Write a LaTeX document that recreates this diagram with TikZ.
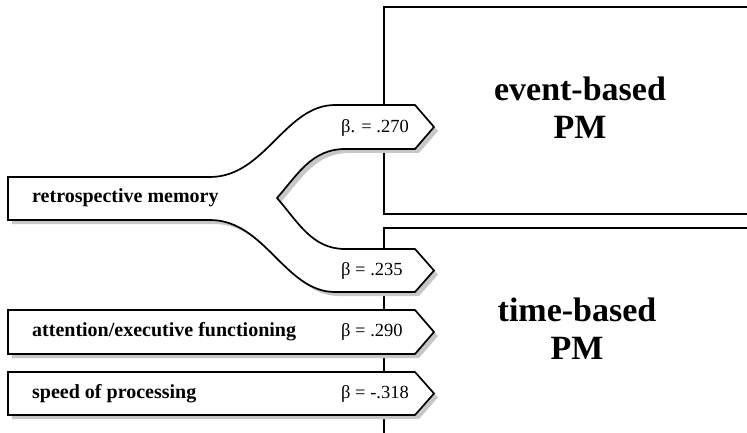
\documentclass[tikz,border=0pt]{standalone}
\usepackage{fontspec}
\setmainfont{Liberation Serif}
\usetikzlibrary{shadows}

\begin{document}
\begin{tikzpicture}[x=1pt, y=-1pt,
  pmbox/.style={line width=1.7pt},
  arrowbox/.style={draw, fill=white, line width=1.7pt, line join=miter,
                   drop shadow={shadow xshift=4pt, shadow yshift=-4pt, fill=black!22, opacity=1}},
  factor/.style={anchor=west, inner sep=0pt, font=\fontsize{20}{24}\selectfont\bfseries},
  beta/.style={anchor=west, inner sep=0pt, font=\fontsize{18.5}{22}\selectfont},
  outcome/.style={align=center, inner sep=0pt, font=\fontsize{34}{40}\selectfont\bfseries}]

  \useasboundingbox (0,0) rectangle (747,433);
  \clip (0,0) rectangle (747,433);
  \fill[white] (0,0) rectangle (747,433);

  % ----- PM boxes (run off the page) -----
  \draw[pmbox] (760,7) -- (384,7) -- (384,214) -- (760,214);
  \draw[pmbox] (760,228) -- (384,228) -- (384,440);
  \node[outcome] (event) at (580,108) {event-based\\[-2pt]PM};
  \node[outcome] (time) at (577,329) {time-based\\[-2pt]PM};

  % ----- forked arrow: retrospective memory -----
  \draw[arrowbox] (8,177) -- (210,177)
    .. controls (265,177) and (285,105) .. (335,105) -- (415,105) -- (434,127)
    -- (415,149) -- (345,149)
    .. controls (312,149) and (298,174) .. (277,198)
    .. controls (298,222) and (312,249) .. (345,249) -- (415,249) -- (434,270.5)
    -- (415,292) -- (335,292)
    .. controls (285,292) and (265,220) .. (210,220) -- (8,220) -- cycle;
  \node[factor] (retro) at (32,198) {retrospective memory};
  \node[beta] (retrobetaup) at (341,128) {β. = .270};
  \node[beta] (retrobetalow) at (341,271) {β = .235};

  % ----- attention arrow -----
  \draw[arrowbox] (8,310) -- (415,310) -- (434,332) -- (415,354) -- (8,354) -- cycle;
  \node[factor] (attn) at (32,332) {attention/executive functioning};
  \node[beta] (attnbeta) at (341,332) {β = .290};

  % ----- speed arrow -----
  \draw[arrowbox] (8,372) -- (415,372) -- (434,393.5) -- (415,415) -- (8,415) -- cycle;
  \node[factor] (speed) at (32,393.5) {speed of processing};
  \node[beta] (speedbeta) at (341,393.5) {β = -.318};

\end{tikzpicture}
\end{document}
